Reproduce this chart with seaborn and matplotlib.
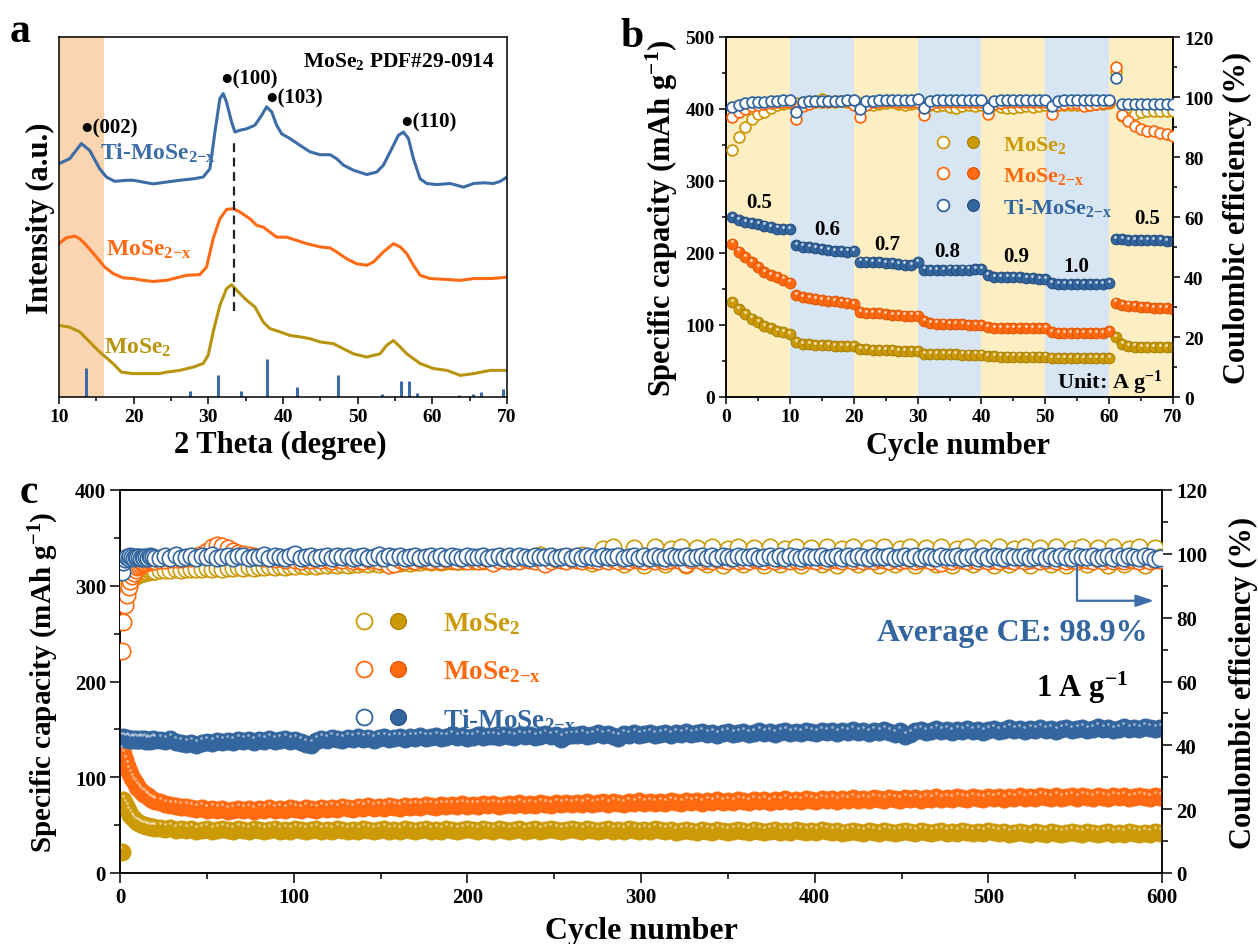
import numpy as np
import pandas as pd
import matplotlib
matplotlib.use("Agg")
import matplotlib.pyplot as plt
import seaborn as sns
from matplotlib.lines import Line2D
from matplotlib.legend_handler import HandlerTuple
from matplotlib.transforms import ScaledTranslation
from matplotlib.ticker import MultipleLocator

# ======================= DATA =======================
# ---- panel a: XRD patterns (2theta, offset intensity) ----
ti_2t = [10.00, 11.43, 12.99, 14.11, 15.45, 16.35, 17.47, 19.03, 19.92, 21.27, 22.61, 24.39, 26.18, 27.97,
         29.31, 30.21, 30.88, 31.55, 31.99, 32.44, 33.11, 33.56, 34.23, 35.12, 36.24, 37.13, 37.80, 38.48,
         39.15, 39.82, 40.93, 42.28, 43.62, 44.96, 46.30, 47.19, 48.09, 49.43, 51.22, 52.56, 53.45, 54.57,
         55.46, 56.13, 56.80, 57.47, 58.37, 59.26, 60.60, 62.39, 64.18, 65.52, 66.86, 68.20, 69.10, 70.00]
ti_int = [64.8, 66.2, 70.4, 68.5, 63.4, 61.1, 59.9, 60.2, 60.2, 59.7, 59.2, 59.7, 60.2, 60.6,
          61.1, 63.4, 73.6, 82.9, 84.3, 81.9, 76.4, 73.6, 74.1, 74.5, 75.5, 78.2, 80.6, 79.2,
          75.5, 73.1, 71.8, 69.9, 68.1, 67.3, 67.3, 66.2, 64.4, 63.0, 61.8, 62.5, 64.4, 69.0,
          72.7, 73.6, 71.8, 66.2, 60.6, 59.3, 59.0, 59.3, 58.3, 59.3, 59.5, 59.3, 59.9, 61.1]

ox_2t = [10.00, 10.98, 12.10, 12.77, 13.67, 15.01, 16.12, 17.24, 18.58, 19.92, 21.27, 22.61, 24.39, 25.74,
         27.08, 28.86, 29.76, 30.65, 31.55, 32.44, 33.34, 34.23, 35.57, 36.46, 37.36, 38.25, 39.15, 40.49,
         41.83, 43.17, 44.96, 46.30, 47.19, 48.53, 49.87, 51.22, 52.11, 53.45, 54.79, 55.69, 56.58, 57.47,
         58.37, 59.71, 61.50, 63.73, 65.52, 67.76, 69.10, 70.00]
ox_int = [42.6, 44.2, 44.7, 44.0, 42.1, 38.9, 36.1, 34.3, 33.1, 32.9, 32.4, 32.1, 32.4, 33.1,
          33.8, 34.0, 36.1, 44.0, 49.5, 52.1, 52.3, 51.4, 49.5, 47.7, 47.2, 45.8, 44.4, 44.4,
          43.5, 42.6, 41.7, 41.4, 40.3, 38.4, 37.0, 36.6, 37.5, 40.3, 42.6, 41.7, 39.8, 36.6,
          33.8, 32.9, 32.7, 32.4, 32.9, 32.9, 33.1, 33.3]

mo_2t = [10.00, 11.43, 12.77, 14.11, 15.45, 17.24, 18.36, 19.92, 21.71, 23.50, 24.39, 26.18, 27.97, 29.31,
         29.98, 30.65, 31.55, 32.44, 33.11, 34.01, 35.12, 36.24, 37.36, 38.25, 39.59, 40.93, 42.28, 43.62,
         44.96, 46.75, 48.09, 49.43, 51.22, 53.00, 53.90, 54.79, 55.69, 56.58, 58.37, 60.16, 61.95, 63.73,
         65.52, 67.76, 70.00]
mo_int = [19.9, 19.4, 18.1, 15.3, 12.5, 9.3, 6.9, 6.5, 6.5, 6.5, 6.9, 7.4, 8.3, 9.3,
          11.6, 18.1, 25.5, 30.1, 31.2, 29.2, 26.9, 25.0, 20.8, 19.0, 18.1, 17.1, 16.7, 16.2,
          15.3, 14.8, 13.4, 12.0, 11.1, 12.0, 14.4, 15.7, 13.9, 12.0, 9.3, 7.9, 7.4, 6.0,
          6.5, 7.4, 7.4]

pdf_2t = [13.58, 27.52, 31.32, 34.32, 37.80, 41.83, 47.42, 53.23, 55.82, 56.94, 57.92, 63.51, 65.43, 66.50, 69.45]
pdf_int = [8.1, 1.6, 6.0, 1.6, 10.6, 2.8, 6.0, 0.8, 4.4, 4.4, 1.1, 0.6, 0.8, 1.4, 2.3]

peak_labels = ["●(002)", "●(100)", "●(103)", "●(110)"]
peak_pos = [12.9, 31.55, 37.6, 55.7]
peak_y = [75.0, 88.4, 83.3, 76.4]
dash_x = 33.4
dash_y = (24.0, 70.8)

# ---- panel b: rate capability ----
cyc_b = list(range(1, 71))
ti_cap_b = [250, 246, 243, 241, 240, 238, 236, 234, 233, 233,
            211, 209, 208, 207, 205, 204, 203, 203, 202, 203,
            188, 188, 187, 187, 186, 186, 185, 184, 183, 187,
            177, 176, 176, 176, 177, 177, 177, 177, 178, 178,
            169, 167, 167, 166, 166, 166, 165, 165, 164, 164,
            158, 157, 157, 157, 157, 157, 157, 157, 157, 158,
            219, 219, 218, 218, 218, 218, 218, 218, 217, 217]
ox_cap_b = [213, 202, 194, 187, 180, 174, 169, 166, 163, 159,
            142, 139, 137, 136, 135, 134, 133, 132, 131, 129,
            118, 117, 116, 116, 115, 114, 114, 113, 113, 113,
            105, 103, 102, 102, 101, 101, 101, 100, 100, 100,
            97, 96, 96, 96, 96, 96, 96, 96, 96, 96,
            90, 89, 89, 89, 89, 89, 89, 89, 89, 91,
            131, 128, 127, 126, 125, 125, 124, 124, 123, 122]
mo_cap_b = [132, 122, 115, 109, 104, 99, 96, 92, 90, 87,
            76, 74, 73, 72, 72, 72, 71, 71, 71, 71,
            66, 66, 65, 65, 65, 65, 64, 64, 64, 64,
            60, 60, 60, 60, 60, 60, 59, 59, 59, 59,
            57, 57, 56, 56, 56, 56, 56, 56, 56, 56,
            54, 54, 54, 54, 54, 54, 54, 54, 54, 54,
            83, 74, 71, 70, 69, 69, 69, 69, 69, 69]
ti_ce_b = [96.7, 97.5, 98.0, 98.3, 98.5, 98.5, 98.8, 98.8, 99.0, 99.0,
           95.0, 98.5, 98.6, 98.7, 98.8, 98.8, 98.8, 98.8, 98.9, 98.9,
           96.0, 98.7, 98.8, 98.9, 98.9, 98.9, 98.9, 99.0, 99.0, 99.5,
           96.5, 98.8, 99.0, 99.0, 99.0, 99.0, 99.0, 99.0, 99.0, 99.0,
           96.5, 98.8, 99.0, 99.0, 99.0, 99.0, 99.0, 99.0, 99.0, 99.0,
           97.0, 98.8, 99.0, 99.0, 99.0, 99.0, 99.0, 99.0, 99.0, 99.0,
           106.5, 97.8, 97.7, 97.7, 97.7, 97.6, 97.6, 97.6, 97.6, 97.8]
ox_ce_b = [93.5, 95.0, 96.0, 97.0, 97.5, 97.8, 98.0, 98.2, 98.3, 98.5,
           92.7, 97.0, 97.8, 98.3, 98.5, 98.5, 98.6, 98.7, 98.7, 97.5,
           93.5, 97.5, 98.2, 98.5, 98.8, 98.6, 98.5, 98.5, 98.5, 98.5,
           94.0, 97.8, 98.2, 98.3, 98.5, 98.5, 98.5, 98.5, 98.5, 98.5,
           94.3, 97.8, 98.0, 98.2, 98.2, 98.3, 98.3, 98.3, 98.4, 98.4,
           94.3, 97.5, 97.8, 98.0, 98.0, 97.0, 97.5, 97.8, 98.0, 98.2,
           110.0, 94.0, 92.0, 90.5, 89.5, 88.8, 88.7, 88.0, 87.6, 87.0]
mo_ce_b = [82.3, 86.8, 90.0, 92.7, 94.3, 95.0, 96.5, 97.3, 97.8, 98.0,
           98.0, 98.3, 98.5, 98.8, 99.5, 98.8, 98.5, 98.8, 98.5, 98.0,
           98.0, 97.8, 97.5, 97.8, 98.0, 98.2, 97.8, 97.5, 97.8, 98.0,
           97.5, 97.2, 97.0, 97.3, 96.8, 96.5, 97.0, 97.3, 97.0, 97.2,
           97.0, 97.2, 96.8, 96.5, 96.2, 96.8, 97.0, 96.8, 97.0, 97.2,
           97.0, 97.2, 97.3, 97.5, 97.5, 97.3, 97.5, 97.6, 97.8, 98.0,
           108.5, 93.8, 93.0, 94.5, 95.0, 95.2, 95.3, 95.3, 95.5, 95.3]
rate_labels = ["0.5", "0.6", "0.7", "0.8", "0.9", "1.0", "0.5"]
rate_x = [5.2, 15.8, 25.3, 34.7, 45.5, 54.8, 66.0]
rate_y = [271, 233, 213, 203, 196, 182, 248]

# ---- panel c: long cycling at 1 A g-1 (cycles 1-20, then every 3rd cycle) ----
cyc_c = list(range(1, 21)) + list(range(23, 600, 3))
ti_cap_c = [141, 142, 140, 141, 140, 139, 140, 139, 140, 139, 139, 140, 139, 140, 138, 139, 138, 139, 140, 139,
            139, 138, 140, 137, 136, 135, 136, 134, 136, 137, 136, 138, 137, 138, 137, 139,
            138, 139, 137, 139, 138, 140, 138, 139, 140, 138, 139, 137, 135, 134, 138, 140,
            139, 141, 140, 139, 141, 140, 142, 140, 141, 139, 141, 142, 140, 141, 142, 140,
            142, 141, 143, 141, 142, 143, 141, 142, 144, 142, 143, 141, 142, 144, 142, 143,
            143, 142, 144, 143, 142, 144, 143, 144, 142, 143, 145, 143, 144, 140, 143, 144,
            144, 145, 143, 144, 146, 144, 145, 143, 141, 145, 144, 146, 144, 145, 146, 144,
            145, 146, 144, 146, 145, 147, 145, 146, 147, 145, 146, 144, 146, 147, 145, 146,
            147, 145, 146, 148, 146, 147, 145, 147, 148, 146, 147, 146, 148, 147, 146, 148,
            147, 148, 146, 148, 147, 149, 147, 148, 146, 148, 147, 149, 147, 145, 148, 143,
            145, 148, 149, 147, 148, 150, 148, 149, 147, 149, 148, 150, 148, 149, 147, 149,
            150, 148, 149, 151, 149, 150, 148, 150, 149, 151, 149, 150, 148, 150, 151, 149,
            150, 151, 149, 150, 152, 150, 151, 149, 150, 152, 150, 151, 150, 152, 151, 150,
            151]
ox_cap_c = [128, 124, 118, 112, 107, 103, 99, 96, 93, 90, 88, 86, 84, 83, 81, 80, 78, 77, 76, 75,
            74, 72, 71, 70, 69, 69, 68, 67, 68, 66, 67, 66, 67, 65, 66, 67,
            66, 67, 65, 67, 66, 68, 66, 67, 66, 68, 67, 66, 68, 67, 66, 68,
            67, 68, 67, 69, 68, 67, 69, 68, 70, 68, 69, 68, 70, 69, 68, 70,
            69, 70, 69, 71, 70, 69, 71, 70, 71, 70, 72, 70, 71, 70, 72, 71,
            72, 70, 71, 72, 71, 73, 71, 72, 71, 73, 72, 71, 73, 72, 73, 72,
            73, 72, 74, 72, 73, 74, 72, 74, 73, 72, 74, 73, 75, 73, 74, 73,
            74, 73, 75, 74, 73, 75, 74, 75, 73, 75, 74, 76, 74, 75, 74, 76,
            75, 74, 76, 75, 76, 74, 76, 75, 77, 75, 76, 75, 77, 76, 75, 77,
            76, 77, 75, 77, 76, 78, 76, 77, 76, 78, 77, 76, 78, 77, 76, 78,
            77, 78, 76, 78, 77, 79, 77, 78, 77, 79, 78, 77, 79, 78, 77, 79,
            78, 79, 77, 79, 78, 80, 78, 79, 78, 80, 79, 78, 80, 78, 79, 80,
            78, 80, 79, 78, 80, 79, 78, 80, 79, 80, 78, 79, 80, 79, 78, 80,
            79]
mo_cap_c = [22, 76, 72, 68, 64, 61, 58, 56, 54, 53, 52, 51, 50, 50, 49, 49, 48, 48, 48, 47,
            47, 46, 47, 45, 46, 45, 46, 44, 45, 46, 44, 45, 46, 45, 44, 46,
            45, 44, 46, 45, 44, 45, 46, 44, 45, 44, 46, 45, 44, 45, 46, 44,
            45, 44, 46, 45, 44, 45, 44, 46, 45, 44, 45, 46, 44, 45, 44, 46,
            45, 44, 45, 46, 44, 45, 44, 46, 45, 44, 45, 46, 45, 44, 46, 45,
            44, 46, 45, 44, 45, 46, 44, 45, 46, 44, 45, 46, 45, 44, 45, 46,
            45, 44, 46, 45, 44, 45, 46, 44, 45, 44, 46, 45, 44, 45, 44, 46,
            45, 44, 45, 43, 44, 45, 44, 43, 45, 44, 43, 45, 44, 43, 44, 45,
            44, 43, 45, 44, 43, 44, 45, 43, 44, 43, 45, 44, 43, 44, 43, 45,
            44, 43, 44, 42, 43, 44, 43, 42, 44, 43, 42, 44, 43, 42, 43, 44,
            43, 42, 44, 43, 42, 43, 44, 42, 43, 42, 44, 43, 42, 43, 42, 44,
            43, 42, 43, 41, 42, 43, 42, 41, 43, 42, 41, 43, 42, 41, 42, 43,
            42, 41, 43, 42, 41, 42, 43, 41, 42, 41, 43, 42, 41, 42, 41, 43,
            42]
ti_ce_c = [94.3, 97.5, 98.5, 99.0, 98.8, 99.2, 99.0, 98.7, 99.1, 98.9, 99.0, 98.6, 99.1, 98.8, 99.0, 98.7, 99.2, 98.9, 99.0, 98.8,
           98.6, 99.3, 98.8, 99.5, 98.7, 99.1, 99.4, 98.6, 99.2, 98.9, 99.5, 98.7, 99.0, 99.3, 98.8, 99.2,
           99.4, 98.7, 99.1, 98.9, 99.5, 98.6, 99.2, 99.0, 98.8, 99.4, 99.9, 98.7, 99.1, 99.3, 98.8, 99.0,
           99.3, 98.7, 99.2, 98.9, 99.4, 98.6, 99.1, 99.3, 98.8, 99.0, 99.5, 98.7, 99.2, 98.9, 99.3, 98.8,
           99.1, 99.4, 98.7, 99.0, 99.3, 98.8, 99.2, 98.6, 99.4, 99.0, 98.8, 99.3, 98.9, 99.1, 99.4, 98.7,
           99.0, 99.3, 98.8, 99.2, 98.6, 99.4, 99.0, 98.8, 99.3, 98.9, 99.1, 99.4, 98.7, 99.0, 99.3, 98.8,
           99.2, 98.7, 99.4, 99.0, 98.8, 99.3, 98.9, 99.1, 99.4, 98.7, 99.0, 99.3, 98.8, 99.2, 98.6, 99.4,
           99.0, 98.8, 99.3, 98.9, 99.1, 99.4, 98.7, 99.0, 99.3, 98.8, 99.2, 98.6, 99.4, 99.0, 98.8, 99.3,
           98.9, 99.1, 99.4, 98.7, 99.0, 99.3, 98.8, 99.2, 98.6, 99.4, 99.0, 98.8, 99.3, 98.9, 99.1, 99.4,
           98.7, 99.0, 99.3, 98.8, 99.2, 98.6, 99.4, 99.0, 98.8, 99.3, 98.9, 99.1, 99.4, 98.7, 99.0, 99.3,
           98.8, 99.2, 98.6, 99.4, 99.0, 98.8, 99.3, 98.9, 99.1, 99.4, 98.7, 99.0, 99.3, 98.8, 99.2, 98.6,
           99.4, 99.0, 98.8, 99.3, 98.9, 99.1, 99.4, 98.7, 99.0, 99.3, 98.8, 99.2, 98.6, 99.4, 99.0, 98.8,
           99.3, 98.9, 99.1, 99.4, 98.7, 99.0, 99.3, 98.8, 99.2, 98.6, 99.4, 99.0, 98.8, 99.3, 98.9, 98.5,
           98.6]
ox_ce_c = [69.6, 78.6, 84.0, 87.0, 89.5, 91.5, 93.0, 94.0, 95.0, 95.8, 96.2, 96.5, 96.8, 97.0, 97.2, 97.4, 97.6, 97.7, 97.8, 97.9,
           98.0, 98.1, 98.3, 98.4, 98.5, 98.6, 98.8, 99.2, 100.0, 101.0, 102.0, 102.8, 102.5, 101.8, 101.0, 100.4,
           99.9, 99.5, 99.2, 98.9, 98.7, 98.6, 98.3, 98.8, 98.1, 98.6, 98.2, 97.9, 98.5, 98.0, 98.4, 98.1,
           98.5, 97.8, 98.3, 98.0, 98.6, 97.9, 98.2, 97.6, 98.4, 98.0, 97.8, 98.3, 96.5, 96.8, 98.1, 97.9,
           98.3, 97.8, 98.4, 98.0, 97.7, 98.3, 97.9, 98.5, 98.0, 97.8, 98.3, 97.9, 98.4, 97.7, 98.1, 98.3,
           97.2, 98.0, 98.4, 97.8, 98.2, 97.9, 98.5, 98.0, 97.7, 98.3, 96.8, 97.9, 98.4, 98.0, 97.8, 98.3,
           98.0, 97.7, 98.4, 98.1, 97.8, 98.3, 97.9, 98.5, 97.6, 98.2, 97.9, 98.4, 98.0, 97.7, 98.3, 97.9,
           98.4, 97.8, 98.1, 98.3, 97.9, 96.9, 98.0, 98.4, 97.7, 98.2, 97.9, 98.5, 98.0, 97.8, 98.3, 97.9,
           98.2, 97.7, 98.4, 98.0, 97.8, 98.3, 97.9, 98.5, 98.1, 97.6, 98.2, 97.9, 98.4, 98.0, 97.7, 98.3,
           97.9, 98.4, 98.0, 97.8, 98.3, 97.9, 98.5, 97.7, 98.2, 97.9, 98.4, 98.0, 97.6, 98.3, 97.9, 98.2,
           98.4, 97.8, 98.1, 98.3, 97.9, 98.5, 97.0, 98.2, 97.9, 98.4, 98.0, 97.8, 98.3, 97.9, 98.5, 97.7,
           98.2, 97.9, 98.4, 98.0, 97.6, 98.3, 97.9, 98.2, 98.4, 97.8, 98.1, 98.3, 97.9, 98.5, 97.7, 98.2,
           97.9, 98.4, 98.0, 97.8, 98.3, 97.9, 98.5, 97.7, 98.2, 97.9, 98.4, 98.0, 97.6, 98.3, 97.9, 98.2,
           98.0]
mo_ce_c = [86.0, 88.0, 89.5, 90.5, 91.0, 91.8, 92.3, 92.8, 93.2, 93.5, 93.7, 93.9, 94.0, 94.1, 94.2, 94.4, 94.5, 94.5, 94.6, 94.7,
           94.8, 95.0, 94.9, 95.2, 95.0, 95.3, 95.1, 95.4, 95.2, 95.5, 95.3, 95.6, 95.4, 95.7, 95.5, 95.8,
           95.6, 95.9, 95.7, 96.0, 95.8, 96.1, 95.9, 96.2, 96.0, 96.3, 96.1, 96.4, 96.2, 96.5, 96.3, 96.6,
           96.4, 96.7, 96.5, 96.8, 96.6, 96.9, 96.7, 97.0, 96.8, 97.1, 96.9, 97.2, 97.0, 97.3, 97.1, 97.4,
           97.2, 97.5, 97.3, 97.6, 97.4, 97.7, 97.5, 97.8, 97.6, 97.9, 97.7, 98.0, 97.8, 98.1, 97.9, 98.2,
           98.0, 98.3, 98.1, 98.4, 98.2, 98.5, 98.3, 98.6, 98.4, 99.5, 98.5, 98.8, 98.6, 98.9, 98.7, 99.0,
           98.8, 99.6, 98.9, 97.2, 99.0, 101.5, 98.7, 102.0, 98.8, 96.8, 99.0, 101.8, 98.7, 96.5, 99.1, 102.2,
           98.8, 96.8, 101.5, 98.9, 102.0, 96.5, 98.7, 101.8, 98.9, 96.8, 102.2, 98.8, 96.5, 101.5, 98.7, 102.0,
           96.8, 98.9, 101.8, 98.6, 96.5, 102.2, 98.8, 96.8, 101.5, 98.9, 102.0, 96.5, 98.7, 101.8, 98.9, 96.8,
           102.2, 98.8, 96.5, 101.5, 98.7, 102.0, 96.8, 98.9, 101.8, 98.6, 96.5, 102.2, 98.8, 96.8, 101.5, 98.9,
           102.0, 96.5, 98.7, 101.8, 98.9, 96.8, 102.2, 98.8, 96.5, 101.5, 98.7, 102.0, 96.8, 98.9, 101.8, 98.6,
           96.5, 102.2, 98.8, 96.8, 101.5, 98.9, 102.0, 96.5, 98.7, 101.8, 98.9, 96.8, 102.2, 98.8, 96.5, 101.5,
           98.7, 102.0, 96.8, 98.9, 101.8, 98.6, 96.5, 102.2, 98.8, 96.8, 101.5, 98.9, 102.0, 96.5, 98.7, 101.8,
           98.9]

series_names = ["MoSe$_2$", "MoSe$_{2{-}x}$", "Ti-MoSe$_{2{-}x}$"]

# ======================= STYLE =======================
sns.set_theme(style="ticks")
plt.rcParams["font.family"] = ["Liberation Serif", "DejaVu Sans"]
plt.rcParams.update({
    "font.weight": "bold",
    "axes.labelweight": "bold",
    "mathtext.fontset": "custom",
    "mathtext.rm": "Liberation Serif:bold",
    "mathtext.bf": "Liberation Serif:bold",
    "mathtext.it": "Liberation Serif:bold",
    "mathtext.default": "bf",
    "axes.edgecolor": "black",
    "axes.linewidth": 1.1,
    "xtick.color": "black",
    "ytick.color": "black",
    "text.color": "black",
    "axes.labelcolor": "black",
})

GOLD, GOLD_E, GOLD_L = "#CC9A06", "#A57C00", "#B8940F"
ORNG, ORNG_E, ORNG_L = "#FF6A10", "#DD5200", "#FF6A14"
BLUE, BLUE_E, BLUE_L = "#33659E", "#22497A", "#3C6DA6"
YEL_BG, BLU_BG, PEACH = "#FDEFC3", "#D8E6F4", "#FBD4B2"

fig = plt.figure(figsize=(12.58, 9.45), dpi=100)
W, H = 1258, 945

def px_axes(l, t, r, b):
    return fig.add_axes([l / W, 1 - b / H, (r - l) / W, (b - t) / H])

def style_ticks(ax, size, major, minor):
    ax.tick_params(which="major", direction="out", length=major, width=1.1, labelsize=size, pad=3)
    ax.tick_params(which="minor", direction="out", length=minor, width=1.1)

# ======================= PANEL A =======================
axa = px_axes(59, 38, 507, 398)
axa.axvspan(10, 16, color=PEACH, lw=0, zorder=0)
sns.lineplot(x=ti_2t, y=ti_int, ax=axa, color=BLUE_L, lw=2.2, sort=False, estimator=None)
sns.lineplot(x=ox_2t, y=ox_int, ax=axa, color=ORNG_L, lw=2.2, sort=False, estimator=None)
sns.lineplot(x=mo_2t, y=mo_int, ax=axa, color=GOLD_L, lw=2.2, sort=False, estimator=None)
axa.vlines(pdf_2t, 0, pdf_int, color=BLUE_L, lw=2.2)
axa.plot([dash_x, dash_x], list(dash_y), color="#222222", lw=1.6, ls=(0, (4, 2.5)))
for lab, xp, yp in zip(peak_labels, peak_pos, peak_y):
    axa.text(xp, yp, lab, fontsize=15, ha="left", va="center")
axa.text(68.4, 93.5, "MoSe$_2$ PDF#29-0914", fontsize=15.5, ha="right", va="center")
axa.text(15.45, 68.0, series_names[2], fontsize=17, color=BLUE_L, ha="left", va="center")
axa.text(16.26, 41.2, series_names[1], fontsize=17, color=ORNG_L, ha="left", va="center")
axa.text(16.0, 13.9, series_names[0], fontsize=17, color=GOLD_L, ha="left", va="center")
axa.set_xlim(10, 70)
axa.set_ylim(0, 100)
axa.set_yticks([])
axa.xaxis.set_major_locator(MultipleLocator(10))
axa.xaxis.set_minor_locator(MultipleLocator(5))
style_ticks(axa, 14, 5, 3)
axa.set_xlabel("2 Theta (degree)", fontsize=22)
axa.set_ylabel("Intensity (a.u.)", fontsize=22)
axa.xaxis.set_label_coords(0.495, -0.092)
axa.yaxis.set_label_coords(-0.008, 0.5)

# ======================= helpers =======================
def balls(ax, x, y, c, ec, s, hl_s, hl_dy, hl_a):
    sns.scatterplot(x=x, y=y, ax=ax, s=s, color=c, edgecolor=ec, linewidth=0.7, legend=False, zorder=3)
    tr = ax.transData + ScaledTranslation(-0.004, hl_dy, fig.dpi_scale_trans)
    ax.scatter(x, y, s=hl_s, color="white", alpha=hl_a, linewidths=0, transform=tr, zorder=4)

def rings(ax, x, y, c, s, lw):
    sns.scatterplot(x=x, y=y, ax=ax, s=s, facecolor="white", edgecolor=c, linewidth=lw,
                    legend=False, zorder=3)

def ball_legend(ax, fs, ms, hl, htp, ls, anchor):
    cols = [(GOLD, GOLD_E), (ORNG, ORNG_E), (BLUE, BLUE_E)]
    handles = []
    for c, ec in cols:
        h_open = Line2D([], [], ls="none", marker="o", ms=ms, mfc="white", mec=c, mew=1.3)
        h_fill = Line2D([], [], ls="none", marker="o", ms=ms, mfc=c, mec=ec, mew=0.8)
        handles.append((h_open, h_fill))
    leg = ax.legend(handles, series_names, handler_map={tuple: HandlerTuple(ndivide=None, pad=0)},
                    loc="upper left", bbox_to_anchor=anchor, frameon=False, fontsize=fs,
                    handlelength=hl, handletextpad=htp, labelspacing=ls, borderpad=0,
                    borderaxespad=0, labelcolor=[c for c, _ in cols])
    return leg

# ======================= PANEL B =======================
axb = px_axes(726, 38, 1173, 398)
for i, start in enumerate(range(0, 70, 10)):
    axb.axvspan(start, start + 10, color=YEL_BG if i % 2 == 0 else BLU_BG, lw=0, zorder=0)
axb2 = axb.twinx()
s_b = 60
balls(axb, cyc_b, mo_cap_b, GOLD, GOLD_E, s_b, 4, 0.022, 0.75)
balls(axb, cyc_b, ox_cap_b, ORNG, ORNG_E, s_b, 4, 0.022, 0.75)
balls(axb, cyc_b, ti_cap_b, BLUE, BLUE_E, s_b, 4, 0.022, 0.75)
rings(axb2, cyc_b, mo_ce_b, GOLD, s_b, 1.3)
rings(axb2, cyc_b, ox_ce_b, ORNG, s_b, 1.3)
rings(axb2, cyc_b, ti_ce_b, BLUE, s_b, 1.3)
for lab, xp, yp in zip(rate_labels, rate_x, rate_y):
    axb.text(xp, yp, lab, fontsize=15, ha="center", va="center", zorder=5)
axb.text(51.9, 21, "Unit: A g$^{-1}$", fontsize=16, ha="left", va="center", zorder=5)
axb.set_xlim(0, 70)
axb.set_ylim(0, 500)
axb2.set_ylim(0, 120)
axb.xaxis.set_major_locator(MultipleLocator(10))
axb.xaxis.set_minor_locator(MultipleLocator(5))
axb.yaxis.set_major_locator(MultipleLocator(100))
axb.yaxis.set_minor_locator(MultipleLocator(50))
axb2.yaxis.set_major_locator(MultipleLocator(20))
axb2.yaxis.set_minor_locator(MultipleLocator(10))
style_ticks(axb, 14, 5, 3)
style_ticks(axb2, 14, 5, 3)
axb.set_xlabel("Cycle number", fontsize=22)
axb.set_ylabel("Specific capacity (mAh g$^{-1}$)", fontsize=22)
axb2.set_ylabel("Coulombic efficiency (%)", fontsize=22)
axb.xaxis.set_label_coords(0.52, -0.095)
axb.yaxis.set_label_coords(-0.103, 0.5)
axb2.yaxis.set_label_coords(1.112, 0.5)
ball_legend(axb2, 16, 8.5, 2.7, 0.68, 0.45, (0.452, 0.73))

# ======================= PANEL C =======================
axc = px_axes(120, 491, 1162, 874)
axc2 = axc.twinx()
s_cap, s_ce = 150, 140
balls(axc, cyc_c, mo_cap_c, GOLD, GOLD, s_cap, 4, 0.045, 0.5)
balls(axc, cyc_c, ox_cap_c, ORNG, ORNG, s_cap, 4, 0.045, 0.5)
balls(axc, cyc_c, ti_cap_c, BLUE, BLUE, s_cap, 4, 0.045, 0.5)
rings(axc2, cyc_c, mo_ce_c, GOLD, s_ce, 1.2)
rings(axc2, cyc_c, ox_ce_c, ORNG, s_ce, 1.2)
rings(axc2, cyc_c, ti_ce_c, BLUE, s_ce, 1.2)
axc2.plot([551, 551], [95.8, 85.3], color=BLUE_L, lw=1.6, zorder=6)
axc2.annotate("", xy=(597, 85.3), xytext=(550.6, 85.3),
              arrowprops=dict(arrowstyle="-|>,head_length=0.9,head_width=0.3", color=BLUE_L, lw=1.6),
              zorder=6)
axc2.text(592, 75.5, "Average CE: 98.9%", fontsize=23, color=BLUE, ha="right", va="center")
axc2.text(527.5, 58.3, "1 A g$^{-1}$", fontsize=22, ha="left", va="center")
axc.set_xlim(0, 600)
axc.set_ylim(0, 400)
axc2.set_ylim(0, 120)
axc.xaxis.set_major_locator(MultipleLocator(100))
axc.xaxis.set_minor_locator(MultipleLocator(50))
axc.yaxis.set_major_locator(MultipleLocator(100))
axc.yaxis.set_minor_locator(MultipleLocator(50))
axc2.yaxis.set_major_locator(MultipleLocator(20))
axc2.yaxis.set_minor_locator(MultipleLocator(10))
style_ticks(axc, 15, 7, 4)
style_ticks(axc2, 15, 7, 4)
axc.set_xlabel("Cycle number", fontsize=23)
axc.set_ylabel("Specific capacity (mAh g$^{-1}$)", fontsize=21)
axc2.set_ylabel("Coulombic efficiency (%)", fontsize=22)
axc.xaxis.set_label_coords(0.5, -0.113)
axc.yaxis.set_label_coords(-0.057, 0.5)
axc2.yaxis.set_label_coords(1.064, 0.5)
ball_legend(axc2, 19.5, 11.5, 2.48, 1.05, 0.8, (0.218, 0.685))

# panel letters
fig.text(10 / W, 1 - 42 / H, "a", fontsize=30, va="baseline", ha="left")
fig.text(620 / W, 1 - 47 / H, "b", fontsize=30, va="baseline", ha="left")
fig.text(20 / W, 1 - 503 / H, "c", fontsize=30, va="baseline", ha="left")

fig.savefig("out.png", dpi=100)
